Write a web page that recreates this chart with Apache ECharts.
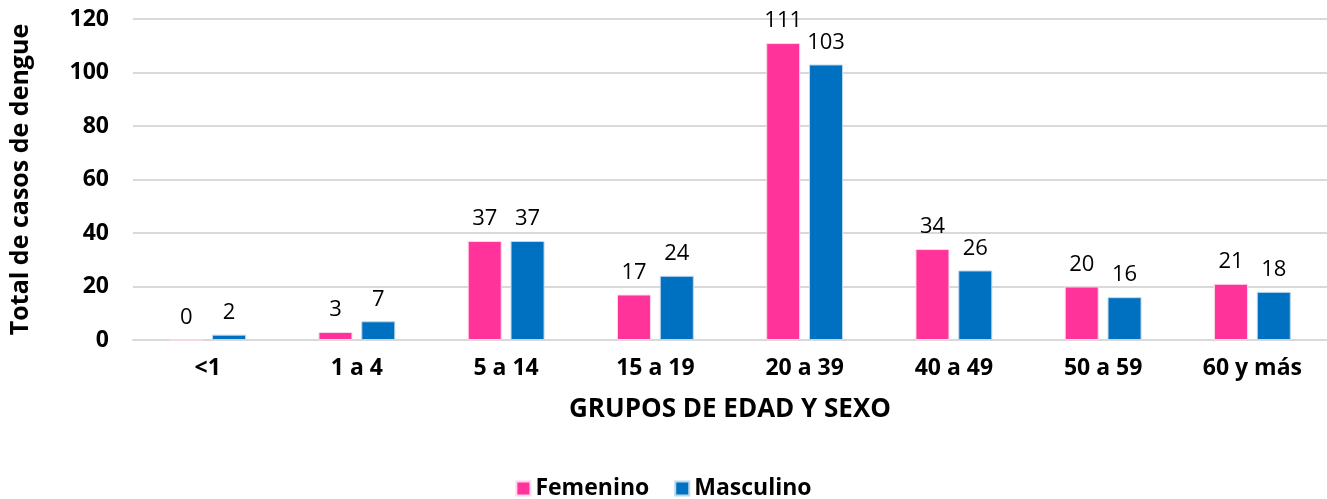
<!DOCTYPE html>
<html>
<head>
<meta charset="utf-8">
<script src="https://cdn.jsdelivr.net/npm/echarts@6/dist/echarts.min.js"></script>
<style>
  html, body { margin: 0; padding: 0; background: #fff; }
  #chart { width: 1327px; height: 499px; }
</style>
</head>
<body>
<div id="chart"></div>
<script>
const categories = ['<1', '1 a 4', '5 a 14', '15 a 19', '20 a 39', '40 a 49', '50 a 59', '60 y más'];
const femenino = [0, 3, 37, 17, 111, 34, 20, 21];
const masculino = [2, 7, 37, 24, 103, 26, 16, 18];

const fontFamily = '"Open Sans", "Noto Sans", sans-serif';

const chart = echarts.init(document.getElementById('chart'));

const barLabel = {
  show: true,
  position: 'top',
  distance: 11,
  color: '#000',
  fontSize: 22,
  fontFamily,
};

chart.setOption({
  animation: false,
  textStyle: { fontFamily },
  grid: { left: 128, right: 0, top: 19, bottom: 159 },
  legend: {
    data: ['Femenino', 'Masculino'],
    bottom: -6,
    left: 'center',
    icon: 'rect',
    itemWidth: 14,
    itemHeight: 14,
    itemGap: 25,
    textStyle: { fontSize: 23, fontWeight: 'bold', color: '#000', fontFamily },
  },
  xAxis: {
    type: 'category',
    data: categories,
    name: 'GRUPOS DE EDAD Y SEXO',
    nameLocation: 'middle',
    nameGap: 57,
    nameTextStyle: { fontSize: 26, fontWeight: 'bold', color: '#000' },
    axisLine: { lineStyle: { color: '#d9d9d9', width: 2 } },
    axisTick: { show: false },
    axisLabel: { fontSize: 23, fontWeight: 'bold', color: '#000', margin: 17 },
  },
  yAxis: {
    type: 'value',
    min: 0,
    max: 120,
    interval: 20,
    name: 'Total de casos de dengue',
    nameLocation: 'middle',
    nameGap: 100,
    nameTextStyle: { fontSize: 25, fontWeight: 'bold', color: '#000' },
    axisLine: { show: false },
    axisTick: { show: false },
    axisLabel: { fontSize: 23, fontWeight: 'bold', color: '#000', margin: 24 },
    splitLine: { lineStyle: { color: '#d9d9d9', width: 2 } },
  },
  series: [
    {
      name: 'Femenino',
      type: 'bar',
      data: femenino,
      barWidth: 34,
      barGap: '26%',
      itemStyle: { color: '#ff3399', borderColor: '#ffd6ea', borderWidth: 1 },
      label: barLabel,
    },
    {
      name: 'Masculino',
      type: 'bar',
      data: masculino,
      barWidth: 34,
      itemStyle: { color: '#0070c0', borderColor: '#bcd7ee', borderWidth: 1 },
      label: barLabel,
    },
  ],
});
</script>
</body>
</html>
